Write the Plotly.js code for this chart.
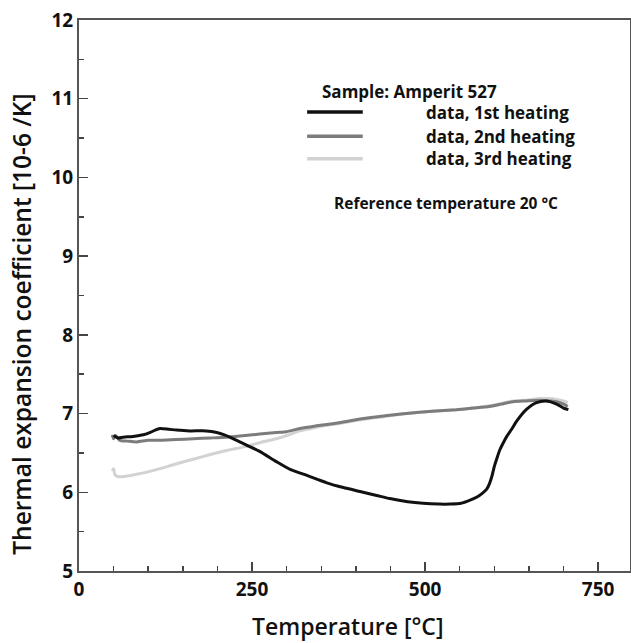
<!DOCTYPE html>
<html>
<head>
<meta charset="utf-8">
<script src="https://cdn.plot.ly/plotly-3.0.1.min.js"></script>
<style>html,body{margin:0;padding:0;background:#fff;}#chart{width:631px;height:643px;}</style>
</head>
<body>
<div id="chart"></div>
<script>
// 1st heating
const temp1 = [50, 56, 64, 78, 93, 103, 110, 117, 130, 141, 160, 184, 199, 210, 218, 230, 242, 261, 285, 305, 324, 358, 382, 406, 430, 449, 475, 497, 520, 536, 552, 565, 575, 583, 589, 593, 597, 600, 604, 608, 613, 618, 625, 632, 646, 661, 675, 690, 700, 707];
const cte1  = [6.72, 6.69, 6.70, 6.71, 6.73, 6.76, 6.79, 6.81, 6.80, 6.79, 6.78, 6.78, 6.76, 6.73, 6.70, 6.65, 6.60, 6.52, 6.39, 6.29, 6.23, 6.12, 6.06, 6.01, 5.96, 5.92, 5.88, 5.86, 5.85, 5.85, 5.86, 5.90, 5.94, 5.99, 6.04, 6.11, 6.22, 6.33, 6.44, 6.54, 6.63, 6.71, 6.80, 6.90, 7.05, 7.14, 7.16, 7.12, 7.07, 7.05];
// 2nd heating
const temp2 = [48, 50, 53, 59, 70, 83, 100, 117, 140, 165, 190, 213, 240, 261, 285, 300, 319, 340, 358, 380, 406, 440, 473, 510, 545, 570, 593, 610, 627, 645, 666, 680, 690, 700, 706];
const cte2  = [6.73, 6.68, 6.72, 6.66, 6.65, 6.64, 6.66, 6.66, 6.67, 6.68, 6.69, 6.70, 6.72, 6.74, 6.76, 6.77, 6.81, 6.84, 6.86, 6.89, 6.93, 6.97, 7.00, 7.03, 7.05, 7.07, 7.09, 7.12, 7.15, 7.16, 7.17, 7.16, 7.15, 7.12, 7.09];
// 3rd heating
const temp3 = [48, 50, 52, 56, 64, 78, 95, 117, 140, 165, 190, 213, 240, 261, 285, 300, 319, 340, 358, 380, 406, 440, 473, 510, 545, 570, 593, 610, 627, 645, 666, 680, 690, 700, 706];
const cte3  = [6.27, 6.30, 6.22, 6.20, 6.20, 6.22, 6.25, 6.30, 6.36, 6.42, 6.48, 6.53, 6.58, 6.63, 6.68, 6.72, 6.78, 6.82, 6.85, 6.88, 6.92, 6.96, 7.00, 7.03, 7.05, 7.07, 7.10, 7.13, 7.16, 7.17, 7.19, 7.19, 7.18, 7.16, 7.14];

const seriesNames = ["data, 1st heating", "data, 2nd heating", "data, 3rd heating"];
const seriesColors = ["#111111", "#7c7c7c", "#d2d2d2"];
const sampleLabel = "Sample: Amperit 527";
const refLabel = "Reference temperature 20 °C";
const xTitle = "Temperature [°C]";
const yTitle = "Thermal expansion coefficient [10-6 /K]";
const xTicks = [0, 250, 500, 750];
const yTicks = [5, 6, 7, 8, 9, 10, 11, 12];

const FONT = "Open Sans, Noto Sans, sans-serif";
const xs = [temp1, temp2, temp3];
const ys = [cte1, cte2, cte3];
const order = [2, 1, 0];
const traces = order.map(i => ({
  x: xs[i], y: ys[i], type: "scatter", mode: "lines", name: seriesNames[i],
  line: {color: seriesColors[i], width: 3, shape: "spline", smoothing: 0.6},
  showlegend: false
}));

// legend drawn manually
const legY = [0.833, 0.789, 0.748];
const shapes = legY.map((yy, i) => ({
  type: "line", xref: "paper", yref: "paper", x0: 0.414, x1: 0.515, y0: yy, y1: yy,
  line: {color: seriesColors[i], width: 3.5}
}));
const annotations = [
  {text: sampleLabel, xref: "paper", yref: "paper", x: 0.437, y: 0.871, xanchor: "left", yanchor: "middle", showarrow: false,
   font: {family: FONT, size: 17, color: "#111", weight: 700}},
  {text: refLabel, xref: "paper", yref: "paper", x: 0.459, y: 0.668, xanchor: "left", yanchor: "middle", showarrow: false,
   font: {family: FONT, size: 15.5, color: "#111", weight: 700}},
  {text: xTitle, xref: "paper", yref: "paper", x: 0.488, y: -0.1, xanchor: "center", yanchor: "middle", showarrow: false,
   font: {family: FONT, size: 23, color: "#111", weight: 600}},
  {text: yTitle, xref: "paper", yref: "paper", x: -0.1034, y: 0.447, xanchor: "center", yanchor: "middle", showarrow: false,
   textangle: -90, font: {family: FONT, size: 24.5, color: "#111", weight: 600}}
].concat(legY.map((yy, i) => ({
  text: seriesNames[i], xref: "paper", yref: "paper", x: 0.626, y: yy, xanchor: "left", yanchor: "middle", showarrow: false,
  font: {family: FONT, size: 17, color: "#111", weight: 700}
})));

const layout = {
  width: 631, height: 643,
  margin: {l: 79, r: 1, t: 20, b: 72},
  paper_bgcolor: "#fff", plot_bgcolor: "#fff",
  showlegend: false,
  xaxis: {
    range: [0, 796], tickvals: xTicks, ticktext: xTicks.map(String),
    ticks: "inside", ticklen: 9, tickwidth: 1.5, tickcolor: "#444",
    minor: {dtick: 50, ticks: "inside", ticklen: 5, tickwidth: 1.5, tickcolor: "#444"},
    showline: true, linecolor: "#555", linewidth: 2, mirror: true,
    showgrid: false, zeroline: false,
    tickfont: {family: FONT, size: 19, color: "#111", weight: 700}
  },
  yaxis: {
    range: [5, 12], tickvals: yTicks, ticktext: yTicks.map(String),
    ticks: "inside", ticklen: 9, tickwidth: 1.5, tickcolor: "#444",
    minor: {dtick: 0.5, ticks: "inside", ticklen: 5, tickwidth: 1.5, tickcolor: "#444"},
    showline: true, linecolor: "#555", linewidth: 2, mirror: true,
    showgrid: false, zeroline: false,
    tickfont: {family: FONT, size: 19, color: "#111", weight: 700}
  },
  shapes: shapes,
  annotations: annotations
};

Plotly.newPlot("chart", traces, layout, {staticPlot: true, displayModeBar: false});
</script>
</body>
</html>
